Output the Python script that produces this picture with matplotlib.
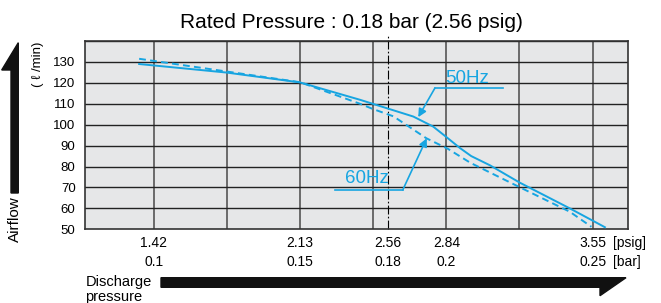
"""
Airflow vs discharge pressure for the 50Hz / 60Hz blower curves.
"""
import matplotlib
matplotlib.use('Agg')
import matplotlib.pyplot as plt
from matplotlib.patches import Polygon

# curve data (bar, l/min)
hz50_bar = [0.095, 0.125, 0.150, 0.1705, 0.1887, 0.1955, 0.2001, 0.2047, 0.2085, 0.2149, 0.2251, 0.2422, 0.2542]
hz50_flow = [129.0, 124.9, 120.2, 111.9, 103.9, 99.1, 94.0, 88.8, 85.0, 80.6, 72.3, 60.0, 51.0]
hz60_bar = [0.095, 0.125, 0.150, 0.1705, 0.1749, 0.1819, 0.1932, 0.2005, 0.2082, 0.2251, 0.2422, 0.2496]
hz60_flow = [131.5, 125.4, 120.3, 110.0, 107.5, 104.0, 93.5, 88.5, 81.8, 70.1, 58.4, 51.2]

bar_ticks = [0.1, 0.15, 0.18, 0.2, 0.25]
bar_labels = ['0.1', '0.15', '0.18', '0.2', '0.25']
psig_labels = ['1.42', '2.13', '2.56', '2.84', '3.55']
grid_bar = [0.1, 0.125, 0.15, 0.175, 0.2, 0.225, 0.25]
flow_ticks = [50, 60, 70, 80, 90, 100, 110, 120, 130]
rated_bar = 0.18

W, H = 661, 303
CYAN = '#17a5e1'

plt.rcParams.update({
    'font.family': ['Liberation Sans', 'DejaVu Sans'],
    'font.size': 9,
})


def fx(x):
    return x / W


def fy(y):
    return 1 - y / H


def main():
    fig = plt.figure(figsize=(W / 100, H / 100), dpi=100)
    ax = fig.add_axes([fx(85.3), fy(229.3), fx(628.3 - 85.3), (229.3 - 41) / H])
    ax.set_facecolor('#e6e7e8')
    ax.set_xlim(0.0766, 0.2622)
    ax.set_ylim(50, 140)

    # grid
    for v in grid_bar:
        ax.axvline(v, color='#555555', lw=1.2, zorder=1)
    for v in flow_ticks[1:] + [140]:
        ax.axhline(v, color='#222222', lw=1.0, zorder=1)
    ax.plot([rated_bar, rated_bar], [50, 143.5], color='black', lw=0.8,
            ls=(0, (8, 2, 1.5, 2)), clip_on=False, zorder=2)
    for s in ax.spines.values():
        s.set_color('#333333')
        s.set_linewidth(1.2)

    # curves
    ax.plot(hz50_bar, hz50_flow, color=CYAN, lw=1.4, zorder=3)
    ax.plot(hz60_bar, hz60_flow, color=CYAN, lw=1.4, ls=(0, (3.5, 2.2)), zorder=3)

    # y ticks
    ax.set_yticks(flow_ticks)
    ax.tick_params(axis='y', length=0, pad=7, labelsize=9.5)
    ax.set_xticks([])

    # x labels: psig row and bar row
    tr = ax.get_xaxis_transform()
    for b, p, l in zip(bar_ticks, psig_labels, bar_labels):
        ax.text(b, -0.075, p, transform=tr, ha='center', va='center', fontsize=10)
        ax.text(b, -0.175, l, transform=tr, ha='center', va='center', fontsize=10)
    fig.text(fx(613), fy(243.5), '[psig]', ha='left', va='center', fontsize=10)
    fig.text(fx(613), fy(262), '[bar]', ha='left', va='center', fontsize=10)

    # 50Hz / 60Hz callouts
    ax.plot([0.1961, 0.2193], [117.5, 117.5], color=CYAN, lw=1.2, zorder=4)
    ax.annotate('', xy=(0.1904, 103.6), xytext=(0.1961, 117.5),
                arrowprops=dict(arrowstyle='-|>', color=CYAN, lw=1.2,
                                mutation_scale=12, shrinkA=0, shrinkB=0))
    ax.text(0.1997, 119.9, '50Hz', color=CYAN, fontsize=13.5, va='baseline', ha='left')
    ax.plot([0.1619, 0.1851], [68.8, 68.8], color=CYAN, lw=1.2, zorder=4)
    ax.annotate('', xy=(0.1933, 93.5), xytext=(0.1851, 68.8),
                arrowprops=dict(arrowstyle='-|>', color=CYAN, lw=1.2,
                                mutation_scale=12, shrinkA=0, shrinkB=0))
    ax.text(0.1654, 72.0, '60Hz', color=CYAN, fontsize=13.5, va='baseline', ha='left')

    # title
    fig.text(fx(351), fy(28), 'Rated Pressure : 0.18 bar (2.56 psig)',
             ha='center', va='baseline', fontsize=15)

    # axis names and big arrows
    fig.text(fx(15), fy(219), 'Airflow', rotation=90, ha='center', va='center', fontsize=11)
    fig.text(fx(37.5), fy(64), '( ℓ /min)', rotation=90, ha='center', va='center', fontsize=9.5)
    up = [(11, 193), (11, 70), (1.7, 70), (18.3, 42.7), (18.3, 193)]
    fig.patches.append(Polygon([(fx(x), fy(y)) for x, y in up], closed=True,
                               transform=fig.transFigure, color='#111111'))
    right = [(161, 277.7), (626, 277.7), (600, 295.7), (600, 287.3), (161, 287.3)]
    fig.patches.append(Polygon([(fx(x), fy(y)) for x, y in right], closed=True,
                               transform=fig.transFigure, color='#111111'))
    fig.text(fx(85.5), fy(286), 'Discharge', ha='left', va='baseline', fontsize=10.5)
    fig.text(fx(85.5), fy(300.5), 'pressure', ha='left', va='baseline', fontsize=10.5)

    fig.savefig('out.png', dpi=100)
    plt.close(fig)


if __name__ == '__main__':
    main()
